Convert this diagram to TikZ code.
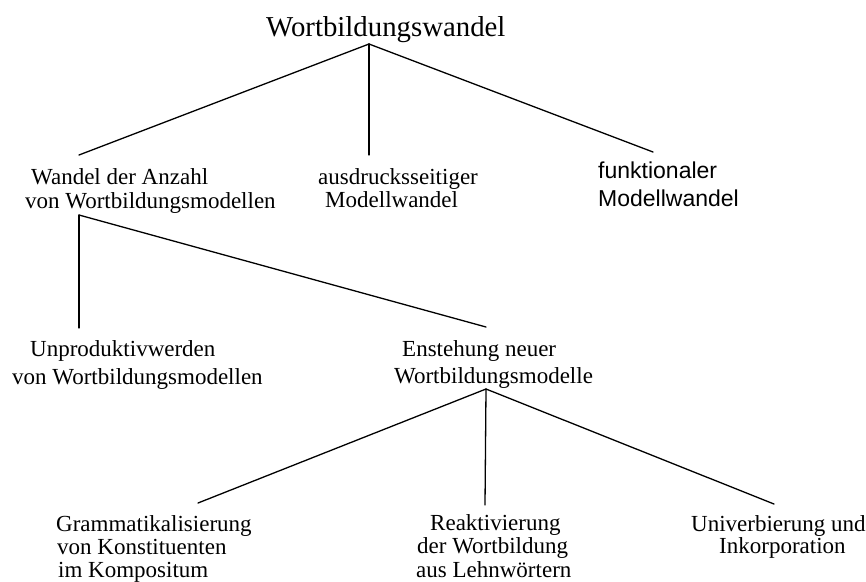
\documentclass[tikz,border=0pt]{standalone}
\usepackage{fontspec}
\setmainfont{Liberation Serif}
\newfontfamily\mysans{Liberation Sans}
\begin{document}
\begin{tikzpicture}[x=1pt,y=-1pt,
  lbl/.style={inner sep=0pt, anchor=base west, font=\fontsize{23}{24}\selectfont},
  slbl/.style={inner sep=0pt, anchor=base west, font=\mysans\fontsize{23}{24}\selectfont},
  ttl/.style={inner sep=0pt, anchor=base west, font=\fontsize{28.8}{30}\selectfont},
  edge/.style={line width=1.3pt, line cap=round}]
\useasboundingbox[fill=white] (0,0) rectangle (866,581);

% texts
\node[ttl] (t) at (266,36) {Wortbildungswandel};

\node[lbl] (a1) at (31,184) {Wandel der Anzahl};
\node[lbl] (a2) at (25,208) {von Wortbildungsmodellen};
\node[lbl] (b1) at (318,184) {ausdrucksseitiger};
\node[lbl] (b2) at (325,207) {Modellwandel};
\node[slbl] (c1) at (598,178) {funktionaler};
\node[slbl] (c2) at (598,206) {Modellwandel};

\node[lbl] (d1) at (30,356) {Unproduktivwerden};
\node[lbl] (d2) at (12,384) {von Wortbildungsmodellen};
\node[lbl] (e1) at (402,356) {Enstehung neuer};
\node[lbl] (e2) at (394,383) {Wortbildungsmodelle};

\node[lbl] (f1) at (56,531) {Grammatikalisierung};
\node[lbl] (f2) at (57,554) {von Konstituenten};
\node[lbl] (f3) at (58,577) {im Kompositum};
\node[lbl] (g1) at (430,530) {Reaktivierung};
\node[lbl] (g2) at (417,553) {der Wortbildung};
\node[lbl] (g3) at (416,577) {aus Lehnwörtern};
\node[lbl] (h1) at (691,531) {Univerbierung und};
\node[lbl] (h2) at (719,553) {Inkorporation};

% connector points
\coordinate (tA) at (369,44);
\coordinate (aT) at (79,155);
\coordinate (bT) at (369,155);
\coordinate (cT) at (653,152);
\coordinate (aA) at (79,215);
\coordinate (dT) at (79,328);
\coordinate (eT) at (486,327);
\coordinate (eA) at (486,389);
\coordinate (fT) at (198,503);
\coordinate (gT) at (485,505);
\coordinate (hT) at (774,504);

% connectors
\draw[edge] (tA) -- (aT);
\draw[edge] (tA) -- (bT);
\draw[edge] (tA) -- (cT);
\draw[edge] (aA) -- (dT);
\draw[edge] (aA) -- (eT);
\draw[edge] (eA) -- (fT);
\draw[edge] (eA) -- (gT);
\draw[edge] (eA) -- (hT);
\end{tikzpicture}
\end{document}
